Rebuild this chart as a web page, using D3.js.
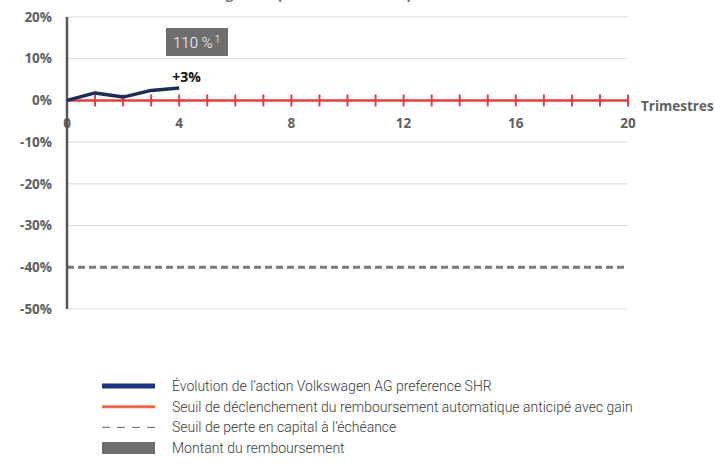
<!DOCTYPE html>
<html>
<head>
<meta charset="utf-8">
<script src="https://cdn.jsdelivr.net/npm/d3@7"></script>
<style>
  html, body { margin: 0; padding: 0; background: #fff; }
  svg { display: block; }
</style>
</head>
<body>
<svg id="chart" width="715" height="466"></svg>
<script>
// données
const quarters = [0, 1, 2, 3, 4];
const perf = [0, 1.8, 0.8, 2.4, 3.0];          // % évolution de l'action
const yTicks = [20, 10, 0, -10, -20, -30, -40, -50];
const xTicks = [0, 4, 8, 12, 16, 20];
const triggerLevel = 0;     // seuil de remboursement anticipé
const lossLevel = -40;      // seuil de perte en capital
const lastQuarter = 20;
const boxLabel = '110 %';
const endLabel = '+3%';
const legendItems = [
  'Évolution de l\u2019action Volkswagen AG preference SHR',
  'Seuil de déclenchement du remboursement automatique anticipé avec gain',
  'Seuil de perte en capital à l\u2019échéance',
  'Montant du remboursement'
];

const svg = d3.select('#chart');
const x = d3.scaleLinear().domain([0, 20]).range([67, 628]);
const y = d3.scaleLinear().domain([-50, 20]).range([309, 17]);

const axisFont = '"Open Sans", sans-serif';

// titre coupé en haut (seul le bas des lettres dépasse)
svg.append('text')
  .attr('x', 22).attr('y', -1)
  .style('font', `700 14px ${axisFont}`)
  .attr('fill', '#777')
  .text('Évolution de l\u2019action Volkswagen AG preference SHR depuis le lancement');

// grille
svg.append('g')
  .selectAll('line')
  .data(yTicks.filter(d => d !== 0 && d !== lossLevel))
  .join('line')
  .attr('x1', x(0)).attr('x2', x(20))
  .attr('y1', d => y(d)).attr('y2', d => y(d))
  .attr('stroke', '#d9d9d9').attr('stroke-width', 1);

// seuil de perte -40%
svg.append('line')
  .attr('x1', x(0)).attr('x2', x(20))
  .attr('y1', y(lossLevel)).attr('y2', y(lossLevel))
  .attr('stroke', '#7a7a7a').attr('stroke-width', 3)
  .attr('stroke-dasharray', '7,4');

// étiquettes axe Y
svg.append('g')
  .selectAll('text')
  .data(yTicks)
  .join('text')
  .attr('x', 52).attr('y', d => y(d))
  .attr('dy', '0.35em')
  .attr('text-anchor', 'end')
  .style('font', `700 13.5px ${axisFont}`)
  .attr('fill', '#606060')
  .text(d => d + '%');

// étiquettes axe X
svg.append('g')
  .selectAll('text')
  .data(xTicks)
  .join('text')
  .attr('x', d => x(d)).attr('y', 128)
  .attr('text-anchor', 'middle')
  .style('font', `700 13.5px ${axisFont}`)
  .attr('fill', '#606060')
  .text(d => d);

svg.append('text')
  .attr('x', 641).attr('y', 111)
  .style('font', `700 13.5px ${axisFont}`)
  .attr('fill', '#606060')
  .text('Trimestres');

// seuil de déclenchement (0%) avec graduations trimestrielles
svg.append('line')
  .attr('x1', x(0)).attr('x2', x(lastQuarter))
  .attr('y1', y(triggerLevel)).attr('y2', y(triggerLevel))
  .attr('stroke', '#e2403f').attr('stroke-width', 2.5);

svg.append('g')
  .selectAll('line')
  .data(d3.range(1, lastQuarter + 1))
  .join('line')
  .attr('x1', d => x(d)).attr('x2', d => x(d))
  .attr('y1', y(triggerLevel) - 6).attr('y2', y(triggerLevel) + 6)
  .attr('stroke', '#e2403f').attr('stroke-width', 2);

// axe vertical
svg.append('line')
  .attr('x1', x(0)).attr('x2', x(0))
  .attr('y1', y(20)).attr('y2', y(-50))
  .attr('stroke', '#555').attr('stroke-width', 2.5);

// courbe de l'action
const line = d3.line()
  .x((d, i) => x(quarters[i]))
  .y(d => y(d));

svg.append('path')
  .datum(perf)
  .attr('fill', 'none')
  .attr('stroke', '#1d2d55')
  .attr('stroke-width', 3.5)
  .attr('stroke-linejoin', 'round')
  .attr('d', line);

svg.append('text')
  .attr('x', x(4) - 7).attr('y', 82)
  .style('font', `700 14px ${axisFont}`)
  .attr('fill', '#111')
  .text(endLabel);

// montant du remboursement
const box = svg.append('g').attr('transform', 'translate(166,28)');
box.append('rect').attr('width', 62).attr('height', 28).attr('fill', '#6e6e6e');
const bt = box.append('text')
  .attr('x', 7).attr('y', 20)
  .style('font', '300 15px Roboto, sans-serif')
  .attr('fill', '#fff');
bt.append('tspan').text(boxLabel);
bt.append('tspan').attr('dx', 2).attr('dy', -5).style('font-size', '10px').text('1');

// légende
const legendY = d3.scalePoint().domain(d3.range(legendItems.length)).range([386, 448]);
const lg = svg.append('g');
legendItems.forEach((t, i) => {
  const yy = legendY(i);
  if (i === 0) {
    lg.append('line').attr('x1', 102).attr('x2', 155).attr('y1', yy).attr('y2', yy)
      .attr('stroke', '#1f3585').attr('stroke-width', 5);
  } else if (i === 1) {
    lg.append('line').attr('x1', 102).attr('x2', 155).attr('y1', yy).attr('y2', yy)
      .attr('stroke', '#ef6b50').attr('stroke-width', 3);
  } else if (i === 2) {
    lg.append('line').attr('x1', 102).attr('x2', 155).attr('y1', yy).attr('y2', yy)
      .attr('stroke', '#666').attr('stroke-width', 1).attr('stroke-dasharray', '8,7');
  } else {
    lg.append('rect').attr('x', 102).attr('y', yy - 6).attr('width', 53).attr('height', 12)
      .attr('fill', '#6e6e6e');
  }
  lg.append('text')
    .attr('x', 172).attr('y', yy)
    .attr('dy', '0.35em')
    .style('font', '300 14px Roboto, sans-serif')
    .attr('fill', '#3a3a3a')
    .text(t);
});
</script>
</body>
</html>
